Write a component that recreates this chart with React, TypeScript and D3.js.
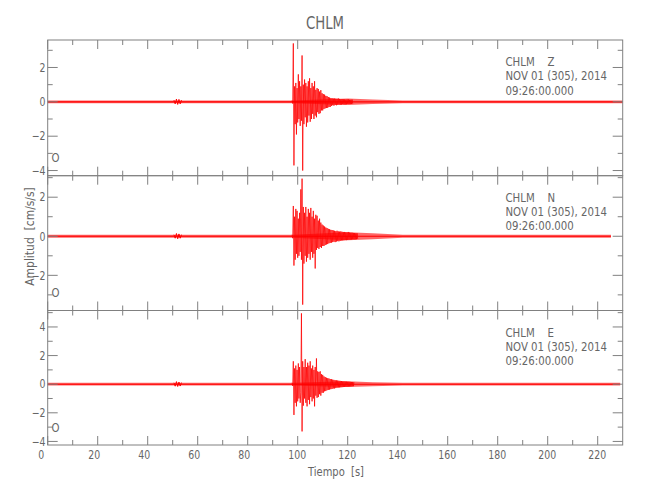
import React from 'react';
import * as d3 from 'd3';

// ---- data ----
const stationName = 'CHLM';
const dateLine = 'NOV 01 (305), 2014';
const timeLine = '09:26:00.000';
const channelNames = ['Z', 'N', 'E'];

const xDomain = [0, 230];
const xMajorTicks = [0, 20, 40, 60, 80, 100, 120, 140, 160, 180, 200, 220];
const xMinorTicks = [10, 30, 50, 70, 90, 110, 130, 150, 170, 190, 210];

const zDomain = [-4.3, 3.6];
const nDomain = [-3.8, 3.1];
const eDomain = [-4.25, 5.15];
const zMajor = [-4, -2, 0, 2];
const zMinor = [-3, -1, 1, 3];
const nMajor = [-2, 0, 2];
const nMinor = [-3, -1, 1, 3];
const eMajor = [-4, -2, 0, 2, 4];
const eMinor = [-3, -1, 1, 3, 5];

// trace end time (s)
const traceEnd = [230, 225.3, 229];

// noise floor / coda half-width, at these times (s)
const bandTimes = [0, 98, 120, 130, 142, 231];
const zBand = [0.085, 0.085, 0.19, 0.13, 0.085, 0.085];
const nBand = [0.075, 0.075, 0.21, 0.15, 0.075, 0.075];
const eBand = [0.1, 0.1, 0.2, 0.14, 0.1, 0.1];

// successive trace extremes, every 0.25 s from 97.75 s
const sampleStep = 0.25;
const activeStart = 97.75;
const zPeaks = [
  0.08, -0.1, 3.4, -3.7,
  0.9, -1.3, 1.1, -1.9,
  0.8, -1.2, 1.6, -1.0,
  1.2, -1.4, 0.9, -1.1,
  2.7, -4.0, 1.0, -1.3,
  1.3, -0.9, 1.1, -1.45,
  0.9, -1.2, 1.2, -0.8,
  1.37, -1.16, 0.8, -1.0,
  1.1, -0.7, 0.9, -1.0,
  1.2, -0.8, 0.7, -0.9,
  0.8, -0.6, 0.75, -0.7,
  0.6, -0.66, 0.68, -0.5,
  0.5, -0.5, 0.45, -0.42,
  0.42, -0.38, 0.35, -0.36,
  0.33, -0.35, 0.28, -0.3,
  0.25, -0.3, 0.22, -0.24,
  0.22, -0.2, 0.2, -0.22,
  0.2, -0.18, 0.19, -0.2,
  0.18, -0.17, 0.2, -0.16,
  0.17, -0.17, 0.15, -0.16,
  0.16, -0.14, 0.15, -0.15,
  0.14, -0.15, 0.13, -0.14,
  0.14, -0.12, 0.15, -0.13,
  0.12, -0.13, 0.12, -0.12,
  0.13, -0.11,
];
const nPeaks = [
  0.08, -0.1, 1.55, -1.5,
  1.0, -1.2, 1.4, -0.9,
  1.3, -1.1, 0.9, -1.0,
  1.2, -0.8, 2.4, -1.2,
  2.95, -3.5, 1.5, -1.4,
  1.2, -1.0, 1.5, -1.3,
  1.0, -1.1, 1.4, -0.9,
  1.2, -1.2, 1.45, -0.8,
  1.0, -1.1, 1.3, -0.9,
  0.9, -1.65, 1.1, -0.7,
  1.05, -0.6, 0.8, -0.65,
  0.9, -0.55, 0.7, -0.6,
  0.6, -0.5, 0.55, -0.5,
  0.5, -0.45, 0.45, -0.42,
  0.42, -0.4, 0.38, -0.36,
  0.36, -0.34, 0.33, -0.33,
  0.32, -0.3, 0.3, -0.28,
  0.28, -0.3, 0.26, -0.27,
  0.28, -0.25, 0.25, -0.26,
  0.24, -0.24, 0.25, -0.22,
  0.23, -0.22, 0.22, -0.21,
  0.22, -0.2, 0.21, -0.2,
  0.2, -0.19, 0.22, -0.18,
  0.19, -0.18, 0.18, -0.17,
  0.18, -0.16, 0.17, -0.16,
  0.16, -0.16, 0.15, -0.15,
  0.15, -0.14,
];
const ePeaks = [
  0.1, -0.12, 1.6, -2.15,
  1.1, -1.3, 1.3, -1.55,
  1.0, -1.2, 1.45, -1.0,
  1.2, -1.3, -0.6, 4.95,
  -3.3, 1.6, -1.5, 1.2,
  -1.0, 1.75, -1.3, 1.2,
  -1.55, 1.5, -1.1, 1.3,
  -1.4, 1.6, -0.9, 1.1,
  -1.2, 1.3, -1.0, 1.0,
  -1.55, 1.2, -0.8, 1.8,
  -0.95, 0.9, -0.9, 0.85,
  -0.7, 0.9, -0.8, 0.7,
  -0.6, 0.65, -0.6, 0.55,
  -0.5, 0.5, -0.48, 0.45,
  -0.42, 0.42, -0.4, 0.4,
  -0.38, 0.36, -0.35, 0.35,
  -0.33, 0.32, -0.3, 0.3,
  -0.3, 0.28, -0.27, 0.27,
  -0.25, 0.26, -0.24, 0.24,
  -0.23, 0.23, -0.22, 0.22,
  -0.21, 0.2, -0.2, 0.2,
  -0.19, 0.19, -0.18, 0.18,
  -0.18, 0.17, -0.17, 0.17,
  -0.16, 0.16, -0.16, 0.15,
  -0.15, 0.15, -0.14, 0.14,
];

// small early arrival near 52 s, every 0.5 s from 50.5 s
const blipStep = 0.5;
const blipStart = 50.5;
const zBlip = [0.1, -0.12, 0.16, -0.15, 0.14, -0.12, 0.1];
const nBlip = [0.08, -0.1, 0.14, -0.13, 0.12, -0.1, 0.08];
const eBlip = [0.1, -0.14, 0.18, -0.16, 0.15, -0.13, 0.11];

// ---- layout ----
const W = 650;
const H = 500;
const panelEdges = [40, 175.7, 310.5, 445];
const axisColor = '#808080';
const textColor = '#666666';
const traceColor = '#ff0000';
const FONT = "'DejaVu Sans Condensed', 'DejaVu Sans', sans-serif";

const xScale = d3.scaleLinear().domain(xDomain).range([47.7, 622.7]);

const channels = [
  { name: channelNames[0], domain: zDomain, major: zMajor, minor: zMinor, peaks: zPeaks, blip: zBlip, band: zBand },
  { name: channelNames[1], domain: nDomain, major: nMajor, minor: nMinor, peaks: nPeaks, blip: nBlip, band: nBand },
  { name: channelNames[2], domain: eDomain, major: eMajor, minor: eMinor, peaks: ePeaks, blip: eBlip, band: eBand },
];

const fmt = (v: number) => (v < 0 ? '\u2212' + Math.abs(v) : String(v));

function T({
  x,
  y,
  size,
  sx = 0.87,
  anchor = 'start',
  rotate = 0,
  children,
}: {
  x: number;
  y: number;
  size: number;
  sx?: number;
  anchor?: string;
  rotate?: number;
  children: React.ReactNode;
}) {
  return (
    <text
      transform={`translate(${x},${y}) rotate(${rotate}) scale(${sx},1)`}
      textAnchor={anchor}
      fontSize={size}
      fill={textColor}
      fontFamily={FONT}
      style={{ whiteSpace: 'pre' }}
    >
      {children}
    </text>
  );
}

function Panel({ idx }: { idx: number }) {
  const ch = channels[idx];
  const top = panelEdges[idx];
  const bottom = panelEdges[idx + 1];
  const y = d3.scaleLinear().domain(ch.domain).range([bottom, top]);
  const x0 = xScale.range()[0];
  const x1 = xScale.range()[1];
  const end = traceEnd[idx];

  const bandPts = bandTimes
    .map((t, i) => [Math.min(t, end), ch.band[i]] as [number, number])
    .filter((d, i, a) => i === 0 || d[0] > a[i - 1][0]);
  const band = d3
    .area<[number, number]>()
    .x((d) => xScale(d[0]))
    .y0((d) => y(-d[1]))
    .y1((d) => y(d[1]))(bandPts);
  const line = d3
    .line<[number, number]>()
    .x((d) => xScale(d[0]))
    .y((d) => y(d[1]));
  const active = line(ch.peaks.map((v, i) => [activeStart + i * sampleStep, v] as [number, number]));
  const blip = line(ch.blip.map((v, i) => [blipStart + i * blipStep, v] as [number, number]));
  const center = line([
    [0, 0],
    [end, 0],
  ]);

  return (
    <g>
      <path d={band || ''} fill={traceColor} opacity={0.6} />
      <path d={center || ''} fill="none" stroke={traceColor} strokeWidth={1.1} />
      <path d={blip || ''} fill="none" stroke={traceColor} strokeWidth={1} />
      <path d={active || ''} fill="none" stroke={traceColor} strokeWidth={0.9} strokeOpacity={0.85} />

      <rect x={x0} y={top} width={x1 - x0} height={bottom - top} fill="none" stroke={axisColor} strokeWidth={1} />
      {xMajorTicks.map((t) => (
        <g key={'M' + t}>
          <line x1={xScale(t)} x2={xScale(t)} y1={top} y2={top + 9} stroke={axisColor} />
          <line x1={xScale(t)} x2={xScale(t)} y1={bottom} y2={bottom - 9} stroke={axisColor} />
        </g>
      ))}
      {xMinorTicks.map((t) => (
        <g key={'m' + t}>
          <line x1={xScale(t)} x2={xScale(t)} y1={top} y2={top + 5} stroke={axisColor} />
          <line x1={xScale(t)} x2={xScale(t)} y1={bottom} y2={bottom - 5} stroke={axisColor} />
        </g>
      ))}
      {ch.major.map((v) => (
        <g key={'Y' + v}>
          <line x1={x0} x2={x0 + 10} y1={y(v)} y2={y(v)} stroke={axisColor} />
          <line x1={x1} x2={x1 - 10} y1={y(v)} y2={y(v)} stroke={axisColor} />
          <T x={45.5} y={y(v) + 4.3} size={12} anchor="end">
            {fmt(v)}
          </T>
        </g>
      ))}
      {ch.minor.map((v) => (
        <g key={'y' + v}>
          <line x1={x0} x2={x0 + 5} y1={y(v)} y2={y(v)} stroke={axisColor} />
          <line x1={x1} x2={x1 - 5} y1={y(v)} y2={y(v)} stroke={axisColor} />
        </g>
      ))}
      <T x={51.5} y={bottom - 13.5} size={13}>
        O
      </T>
      <T x={505.5} y={top + 26} size={13}>
        {stationName + '    ' + ch.name}
      </T>
      <T x={505.5} y={top + 40} size={13}>
        {dateLine}
      </T>
      <T x={505.5} y={top + 54.5} size={13}>
        {timeLine}
      </T>
    </g>
  );
}

export default function App() {
  return (
    <svg
      width={W}
      height={H}
      viewBox={`0 0 ${W} ${H}`}
      style={{ position: 'absolute', left: 0, top: 0, background: '#ffffff' }}
    >
      <rect x={0} y={0} width={W} height={H} fill="#ffffff" />
      <T x={325} y={29} size={18} sx={0.82} anchor="middle">
        {stationName}
      </T>
      {channels.map((_, i) => (
        <Panel key={i} idx={i} />
      ))}
      {xMajorTicks.map((t) => (
        <T key={t} x={xScale(t) - 9.5} y={459} size={12}>
          {String(t)}
        </T>
      ))}
      <T x={336} y={476} size={13} sx={0.85} anchor="middle">
        {'Tiempo  [s]'}
      </T>
      <T x={33.5} y={236.5} size={13} sx={0.92} anchor="middle" rotate={-90}>
        {'Amplitud  [cm/s/s]'}
      </T>
    </svg>
  );
}
